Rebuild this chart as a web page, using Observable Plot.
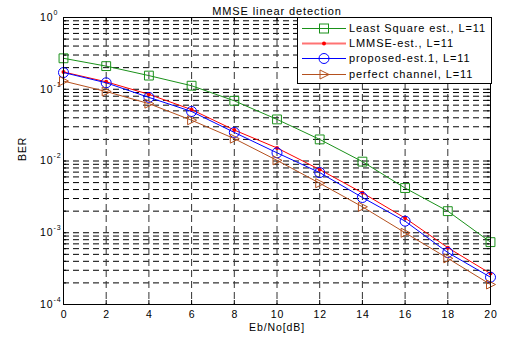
<!DOCTYPE html>
<html>
<head>
<meta charset="utf-8">
<script src="https://cdn.jsdelivr.net/npm/d3@7"></script>
<script src="https://cdn.jsdelivr.net/npm/@observablehq/plot@0.6"></script>
<style>
  html, body { margin: 0; padding: 0; background: #fff; }
  #wrap { position: relative; width: 507px; height: 338px; font-family: "Liberation Sans", Arial, sans-serif; }
  #wrap > svg text { letter-spacing: 0.9px; }
  #legend { position: absolute; left: 297px; top: 17px; width: 193px; height: 65px; border: 1px solid #000; background: #fff; }
</style>
</head>
<body>
<div id="wrap"></div>
<script>
// ---- data ----
const snr = [0, 2, 4, 6, 8, 10, 12, 14, 16, 18, 20];
const leastSquare = [0.27, 0.21, 0.155, 0.112, 0.069, 0.038, 0.020, 0.0098, 0.0042, 0.0020, 0.00074];
const lmmse = [0.174, 0.127, 0.085, 0.052, 0.027, 0.0152, 0.0076, 0.0036, 0.0016, 0.00062, 0.00027];
const proposed = [0.171, 0.123, 0.077, 0.049, 0.025, 0.013, 0.0069, 0.0031, 0.00145, 0.00053, 0.00024];
const perfect = [0.13, 0.093, 0.063, 0.037, 0.0205, 0.0102, 0.0049, 0.0023, 0.0010, 0.00044, 0.00019];
const seriesNames = ["Least Square est., L=11", "LMMSE-est., L=11", "proposed-est.1, L=11", "perfect channel, L=11"];
const seriesColors = ["#1a911a", "#ff0000", "#0000ff", "#b4501e"];
const xTicks = [0, 2, 4, 6, 8, 10, 12, 14, 16, 18, 20];
const yTicks = [1e-4, 1e-3, 1e-2, 1e-1, 1];
const yExponents = ["-4", "-3", "-2", "-1", "0"];

// ---- build tables ----
const seriesValues = [leastSquare, lmmse, proposed, perfect];
const rows = [];
seriesNames.forEach((name, i) => snr.forEach((x, j) => rows.push({series: name, idx: i, x, y: seriesValues[i][j]})));
const bySeries = i => rows.filter(d => d.idx === i);

const yMinor = [];
for (let k = -4; k < 0; k++) for (let m = 1; m <= 9; m++) yMinor.push(m * Math.pow(10, k));
yMinor.push(1);

// right-pointing triangle symbol
const triRight = {
  draw(context, size) {
    const r = Math.sqrt(size / Math.PI);
    context.moveTo(-0.8 * r, -0.9 * r);
    context.lineTo(r, 0);
    context.lineTo(-0.8 * r, 0.9 * r);
    context.closePath();
  }
};

const W = 507, H = 338, mT = 17, mR = 17, mB = 34, mL = 63;
const innerW = W - mL - mR, innerH = H - mT - mB;

const chart = Plot.plot({
  width: W, height: H,
  marginTop: mT, marginRight: mR, marginBottom: mB, marginLeft: mL,
  style: {fontFamily: "Liberation Sans, Arial, sans-serif", background: "#fff", color: "#000", overflow: "visible"},
  x: {domain: [0, 20]},
  y: {type: "log", domain: [1e-4, 1]},
  marks: [
    // grid
    Plot.ruleY(yMinor, {y: d => d, stroke: "#000", strokeWidth: 1, strokeDasharray: "6,4"}),
    Plot.ruleX(xTicks.slice(1, -1), {x: d => d, stroke: "#333", strokeWidth: 1, strokeDasharray: "7,4"}),
    // inward ticks
    Plot.tickX(xTicks, {x: d => d, insetTop: innerH - 4, stroke: "#000"}),
    Plot.tickX(xTicks, {x: d => d, insetBottom: innerH - 4, stroke: "#000"}),
    Plot.tickY(yMinor, {y: d => d, insetRight: innerW - 3, stroke: "#000"}),
    Plot.tickY(yMinor, {y: d => d, insetLeft: innerW - 3, stroke: "#000"}),
    // axes
    Plot.axisX({ticks: xTicks, tickSize: 0, tickPadding: 6, fontSize: 10.5, label: null, tickFormat: d => String(d), dx: 0.5}),
    Plot.axisY({ticks: yTicks, tickSize: 0, tickPadding: 10, fontSize: 10.5, label: null, tickFormat: () => "10"}),
    Plot.text(yTicks, {y: d => d, frameAnchor: "left", text: (d, i) => yExponents[i], dx: -10, dy: -5, textAnchor: "start", fontSize: 7, fill: "#000"}),
    Plot.text([seriesNames[0]], {frameAnchor: "bottom", text: () => "Eb/No[dB]", dy: 26, fontSize: 10.5, fill: "#000"}),
    Plot.text([seriesNames[0]], {frameAnchor: "left", text: () => "BER", dx: -41, rotate: -90, fontSize: 10.5, fill: "#000"}),
    Plot.text([seriesNames[0]], {frameAnchor: "top", text: () => "MMSE linear detection", dy: -10, fontSize: 11, fill: "#000"}),
    // series
    Plot.line(bySeries(0), {x: "x", y: "y", stroke: seriesColors[0], strokeWidth: 1}),
    Plot.dot(bySeries(0), {x: "x", y: "y", symbol: "square", r: 5, stroke: seriesColors[0], fill: "none", strokeWidth: 1}),
    Plot.line(bySeries(1), {x: "x", y: "y", stroke: seriesColors[1], strokeWidth: 1}),
    Plot.dot(bySeries(1), {x: "x", y: "y", r: 2, fill: seriesColors[1], stroke: "none"}),
    Plot.line(bySeries(2), {x: "x", y: "y", stroke: seriesColors[2], strokeWidth: 1}),
    Plot.dot(bySeries(2), {x: "x", y: "y", symbol: "circle", r: 5, stroke: seriesColors[2], fill: "none", strokeWidth: 1}),
    Plot.line(bySeries(3), {x: "x", y: "y", stroke: seriesColors[3], strokeWidth: 1}),
    Plot.dot(bySeries(3), {x: "x", y: "y", symbol: triRight, r: 5, stroke: seriesColors[3], fill: "none", strokeWidth: 1}),
    Plot.frame({stroke: "#000", strokeWidth: 1})
  ]
});

const wrap = document.getElementById("wrap");
wrap.appendChild(chart);

// ---- legend ----
const legend = d3.select(wrap).append("div").attr("id", "legend");
const lsvg = legend.append("svg").attr("width", 193).attr("height", 65).style("display", "block");
const rowY = [10, 25, 40, 56];
const markerDraw = [
  g => g.append("rect").attr("x", -4.5).attr("y", -4.5).attr("width", 9).attr("height", 9).attr("fill", "none").attr("stroke", seriesColors[0]),
  g => g.append("circle").attr("r", 2).attr("fill", seriesColors[1]),
  g => g.append("circle").attr("r", 5).attr("fill", "none").attr("stroke", seriesColors[2]),
  g => g.append("path").attr("d", d3.symbol(triRight, 25 * Math.PI)()).attr("fill", "none").attr("stroke", seriesColors[3])
];
seriesNames.forEach((name, i) => {
  const g = lsvg.append("g").attr("transform", `translate(0,${rowY[i]})`);
  g.append("line").attr("x1", 4).attr("x2", 48).attr("y1", 0.5).attr("y2", 0.5)
    .attr("stroke", seriesColors[i]).attr("stroke-width", i === 1 ? 2 : 1).attr("stroke-opacity", i === 1 ? 0.55 : 1);
  markerDraw[i](g.append("g").attr("transform", "translate(26,0.5)"));
  g.append("text").attr("x", 51).attr("y", 0).attr("dy", "0.35em")
    .attr("font-size", 11).attr("font-family", "Liberation Sans, Arial, sans-serif").attr("letter-spacing", 0.9)
    .attr("fill", "#000").text(name);
});
</script>
</body>
</html>
